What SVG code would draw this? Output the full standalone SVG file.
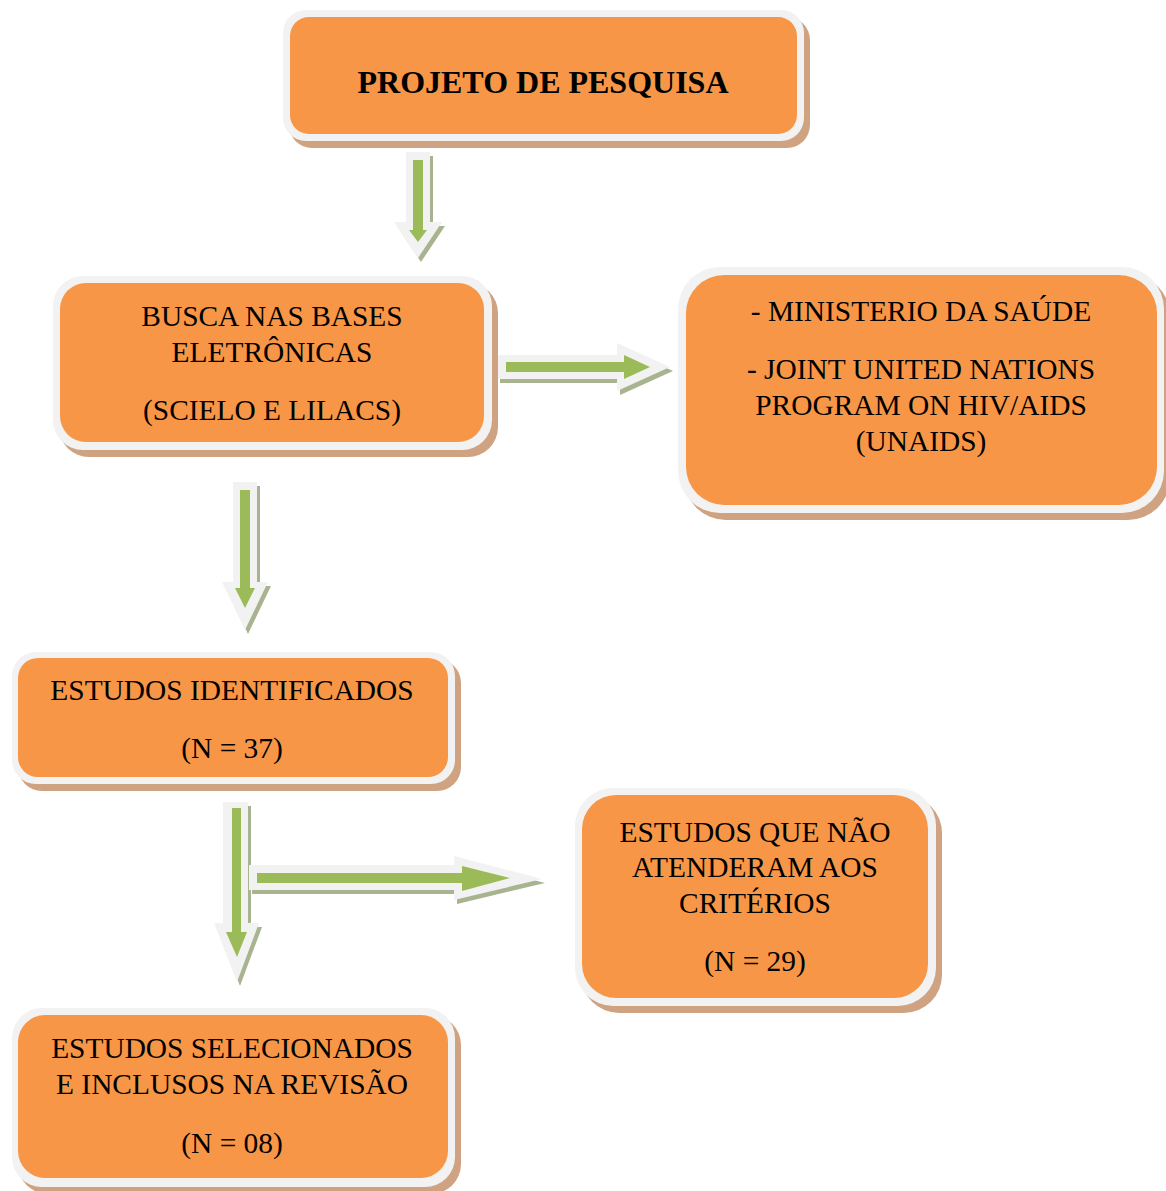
<svg xmlns="http://www.w3.org/2000/svg" width="1166" height="1191" viewBox="0 0 1166 1191">
<style>
.sh{fill:#CFA281}
.bd{fill:#F2F2F2}
.bx{fill:#F79646}
.t{font-family:"Liberation Serif","Times New Roman",serif;font-size:29.4px;fill:#000;text-anchor:middle}
.tb{font-family:"Liberation Serif","Times New Roman",serif;font-size:32px;font-weight:bold;fill:#000;text-anchor:middle}
.as{fill:#A8B390}
.aw{fill:#F2F2F2}
.ag{fill:#9BBB59}
</style>
<rect width="1166" height="1191" fill="#FFFFFF"/>
<g id="connectors">
  <g id="a1">
    <polygon class="as" transform="translate(3,4)" points="406,152 430,152 430,222 442,222 418,258 394,222 406,222"/>
    <polygon class="aw" points="406,152 430,152 430,222 442,222 418,258 394,222 406,222"/>
    <polygon class="ag" points="413,160 423,160 423,230 427,230 418,242 409,230 413,230"/>
  </g>
  <g id="a2">
    <polygon class="as" transform="translate(3,4)" points="233,482 257,482 257,582 268,582 245,630 222,582 233,582"/>
    <polygon class="aw" points="233,482 257,482 257,582 268,582 245,630 222,582 233,582"/>
    <polygon class="ag" points="240,490 250,490 250,588 255,588 245,608 235,588 240,588"/>
  </g>
  <g id="a3">
    <polygon class="as" transform="translate(3,4)" points="497,355 617,355 617,343 670,367 617,391 617,379 497,379"/>
    <polygon class="aw" points="497,355 617,355 617,343 670,367 617,391 617,379 497,379"/>
    <polygon class="ag" points="506,362 624,362 624,355 650,367 624,379 624,372 506,372"/>
  </g>
  <g id="a4">
    <polygon class="as" transform="translate(3,4)" points="223,802 248,802 248,923 259,923 237,982 214,923 223,923"/>
    <polygon class="as" transform="translate(3,4)" points="249,865 454,865 454,856 542,879 454,900 454,890 249,890"/>
    <polygon class="aw" points="223,802 248,802 248,923 259,923 237,982 214,923 223,923"/>
    <polygon class="aw" points="249,865 454,865 454,856 542,879 454,900 454,890 249,890"/>
    <polygon class="ag" points="232,808 241,808 241,932 247,932 237,957 226,932 232,932"/>
    <polygon class="ag" points="257,873 462,873 462,866 510,878 462,891 462,883 257,883"/>
  </g>
</g>
<g id="n1">
  <rect class="sh" x="289" y="17" width="521" height="131" rx="23"/>
  <rect class="bd" x="283" y="10" width="521" height="131" rx="23"/>
  <rect class="bx" x="290" y="17" width="507" height="117" rx="19"/>
  <text class="tb" x="543" y="93">PROJETO DE PESQUISA</text>
</g>
<g id="n2">
  <rect class="sh" x="59" y="283" width="439" height="174" rx="30"/>
  <rect class="bd" x="53" y="276" width="439" height="174" rx="30"/>
  <rect class="bx" x="60" y="283" width="424" height="159" rx="26"/>
  <text class="t" x="272" y="326">BUSCA NAS BASES</text>
  <text class="t" x="272" y="362">ELETRÔNICAS</text>
  <text class="t" x="272" y="420">(SCIELO E LILACS)</text>
</g>
<g id="n3">
  <rect class="sh" x="684" y="274" width="486" height="246" rx="42"/>
  <rect class="bd" x="678" y="267" width="486" height="246" rx="42"/>
  <rect class="bx" x="686" y="275" width="471" height="230" rx="38"/>
  <text class="t" x="921" y="321">- MINISTERIO DA SAÚDE</text>
  <text class="t" x="921" y="379">- JOINT UNITED NATIONS</text>
  <text class="t" x="921" y="415">PROGRAM ON HIV/AIDS</text>
  <text class="t" x="921" y="451">(UNAIDS)</text>
</g>
<g id="n4">
  <rect class="sh" x="18" y="659" width="443" height="132" rx="24"/>
  <rect class="bd" x="12" y="652" width="443" height="132" rx="24"/>
  <rect class="bx" x="18" y="658" width="430" height="119" rx="20"/>
  <text class="t" x="232" y="700">ESTUDOS IDENTIFICADOS</text>
  <text class="t" x="232" y="758">(N = 37)</text>
</g>
<g id="n5">
  <rect class="sh" x="581" y="795" width="361" height="218" rx="38"/>
  <rect class="bd" x="575" y="788" width="361" height="218" rx="38"/>
  <rect class="bx" x="582" y="795" width="346" height="203" rx="34"/>
  <text class="t" x="755" y="842">ESTUDOS QUE NÃO</text>
  <text class="t" x="755" y="877">ATENDERAM AOS</text>
  <text class="t" x="755" y="913">CRITÉRIOS</text>
  <text class="t" x="755" y="971">(N = 29)</text>
</g>
<g id="n6">
  <rect class="sh" x="18" y="1015" width="443" height="179" rx="30"/>
  <rect class="bd" x="12" y="1008" width="443" height="179" rx="30"/>
  <rect class="bx" x="18" y="1015" width="430" height="163" rx="27"/>
  <text class="t" x="232" y="1058">ESTUDOS SELECIONADOS</text>
  <text class="t" x="232" y="1094">E INCLUSOS NA REVISÃO</text>
  <text class="t" x="232" y="1153">(N = 08)</text>
</g>
</svg>
